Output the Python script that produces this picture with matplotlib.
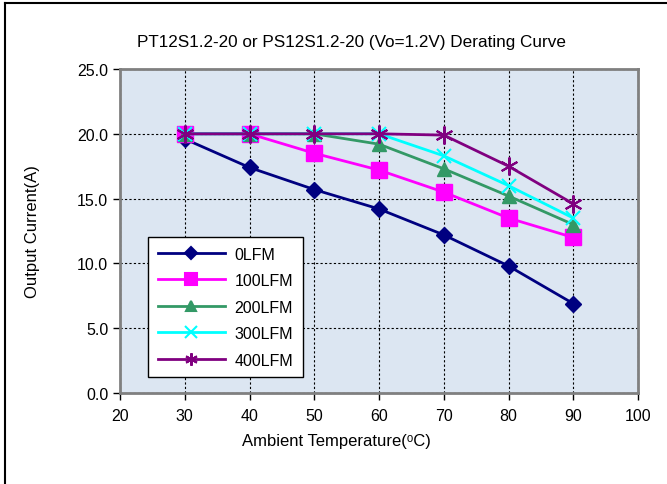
import matplotlib.pyplot as plt
from matplotlib.lines import Line2D

plt.rcParams['font.family'] = ['Liberation Sans', 'DejaVu Sans']

temps = [30, 40, 50, 60, 70, 80, 90]
lfm_0 = [19.6, 17.4, 15.7, 14.2, 12.2, 9.8, 6.9]
lfm_100 = [20.0, 20.0, 18.5, 17.2, 15.5, 13.5, 12.0]
lfm_200 = [20.0, 20.0, 20.0, 19.2, 17.3, 15.2, 13.0]
lfm_300 = [20.0, 20.0, 20.0, 20.0, 18.3, 16.0, 13.5]
lfm_400 = [20.0, 20.0, 20.0, 20.0, 19.9, 17.5, 14.6]

labels = ['0LFM', '100LFM', '200LFM', '300LFM', '400LFM']
colors = ['#000080', '#FF00FF', '#339966', '#00FFFF', '#800080']
markers = ['D', 's', '^', 'x', (6, 2, 0)]
msizes = [8, 11, 10, 10, 13]
leg_sizes = [6, 9, 7, 8, 9]

fig = plt.figure(figsize=(6.67, 4.85), dpi=100)
ax = fig.add_axes([120 / 667, 91 / 485, 518 / 667, 324 / 485])
ax.set_facecolor('#DCE6F2')

series = [lfm_0, lfm_100, lfm_200, lfm_300, lfm_400]
for vals, c, m, ms in zip(series, colors, markers, msizes):
    ax.plot(temps, vals, color=c, lw=2, marker=m, ms=ms,
            markeredgewidth=1.5 if m in ('x', (6, 2, 0)) else 1, markeredgecolor=c,
            markerfacecolor=c, zorder=3)

ax.set_xlim(20, 100)
ax.set_ylim(0, 25)
ax.set_xticks(range(20, 101, 10))
ax.set_yticks([0, 5, 10, 15, 20, 25])
ax.set_yticklabels(['%.1f' % v for v in [0, 5, 10, 15, 20, 25]])
ax.grid(True, color='black', linestyle=(0, (2, 2)), linewidth=0.8)
ax.tick_params(labelsize=11.5, length=5, width=1, color='black')
ax.tick_params(axis='x', pad=6)
for s in ax.spines.values():
    s.set_color('#808080')
    s.set_linewidth(2)

ax.set_xlabel('Ambient Temperature(\u1d52C)', fontsize=12)
ax.set_ylabel('Output Current(A)', fontsize=12)
ax.xaxis.set_label_coords((336 - 120) / 518, -0.125)
ax.yaxis.set_label_coords(-0.155, 0.5)
fig.text(351 / 667, 1 - 42 / 485,
         'PT12S1.2-20 or PS12S1.2-20 (Vo=1.2V) Derating Curve',
         ha='center', va='center', fontsize=12.3)

handles = [Line2D([], [], color=c, lw=2, marker=m, ms=s, markeredgecolor=c,
                  markerfacecolor=c, markeredgewidth=1.5)
           for c, m, s in zip(colors, markers, leg_sizes)]
leg = ax.legend(handles, labels, loc='upper left',
                bbox_to_anchor=((148 - 120) / 518, (394 - 238) / 324),
                frameon=True, fancybox=False, edgecolor='black', framealpha=1,
                fontsize=11.5, handlelength=4.2, labelspacing=0.72,
                borderpad=0.6, handletextpad=0.6, borderaxespad=0)
leg.get_frame().set_linewidth(1)

# outer frame lines
fig.add_artist(Line2D([5 / 667, 5 / 667], [0, 1 - 4 / 485], color='black', lw=1.5,
                      transform=fig.transFigure))
fig.add_artist(Line2D([5 / 667, 1], [1 - 4 / 485, 1 - 4 / 485], color='black', lw=1.5,
                      transform=fig.transFigure))

fig.savefig('out.png', dpi=100)
